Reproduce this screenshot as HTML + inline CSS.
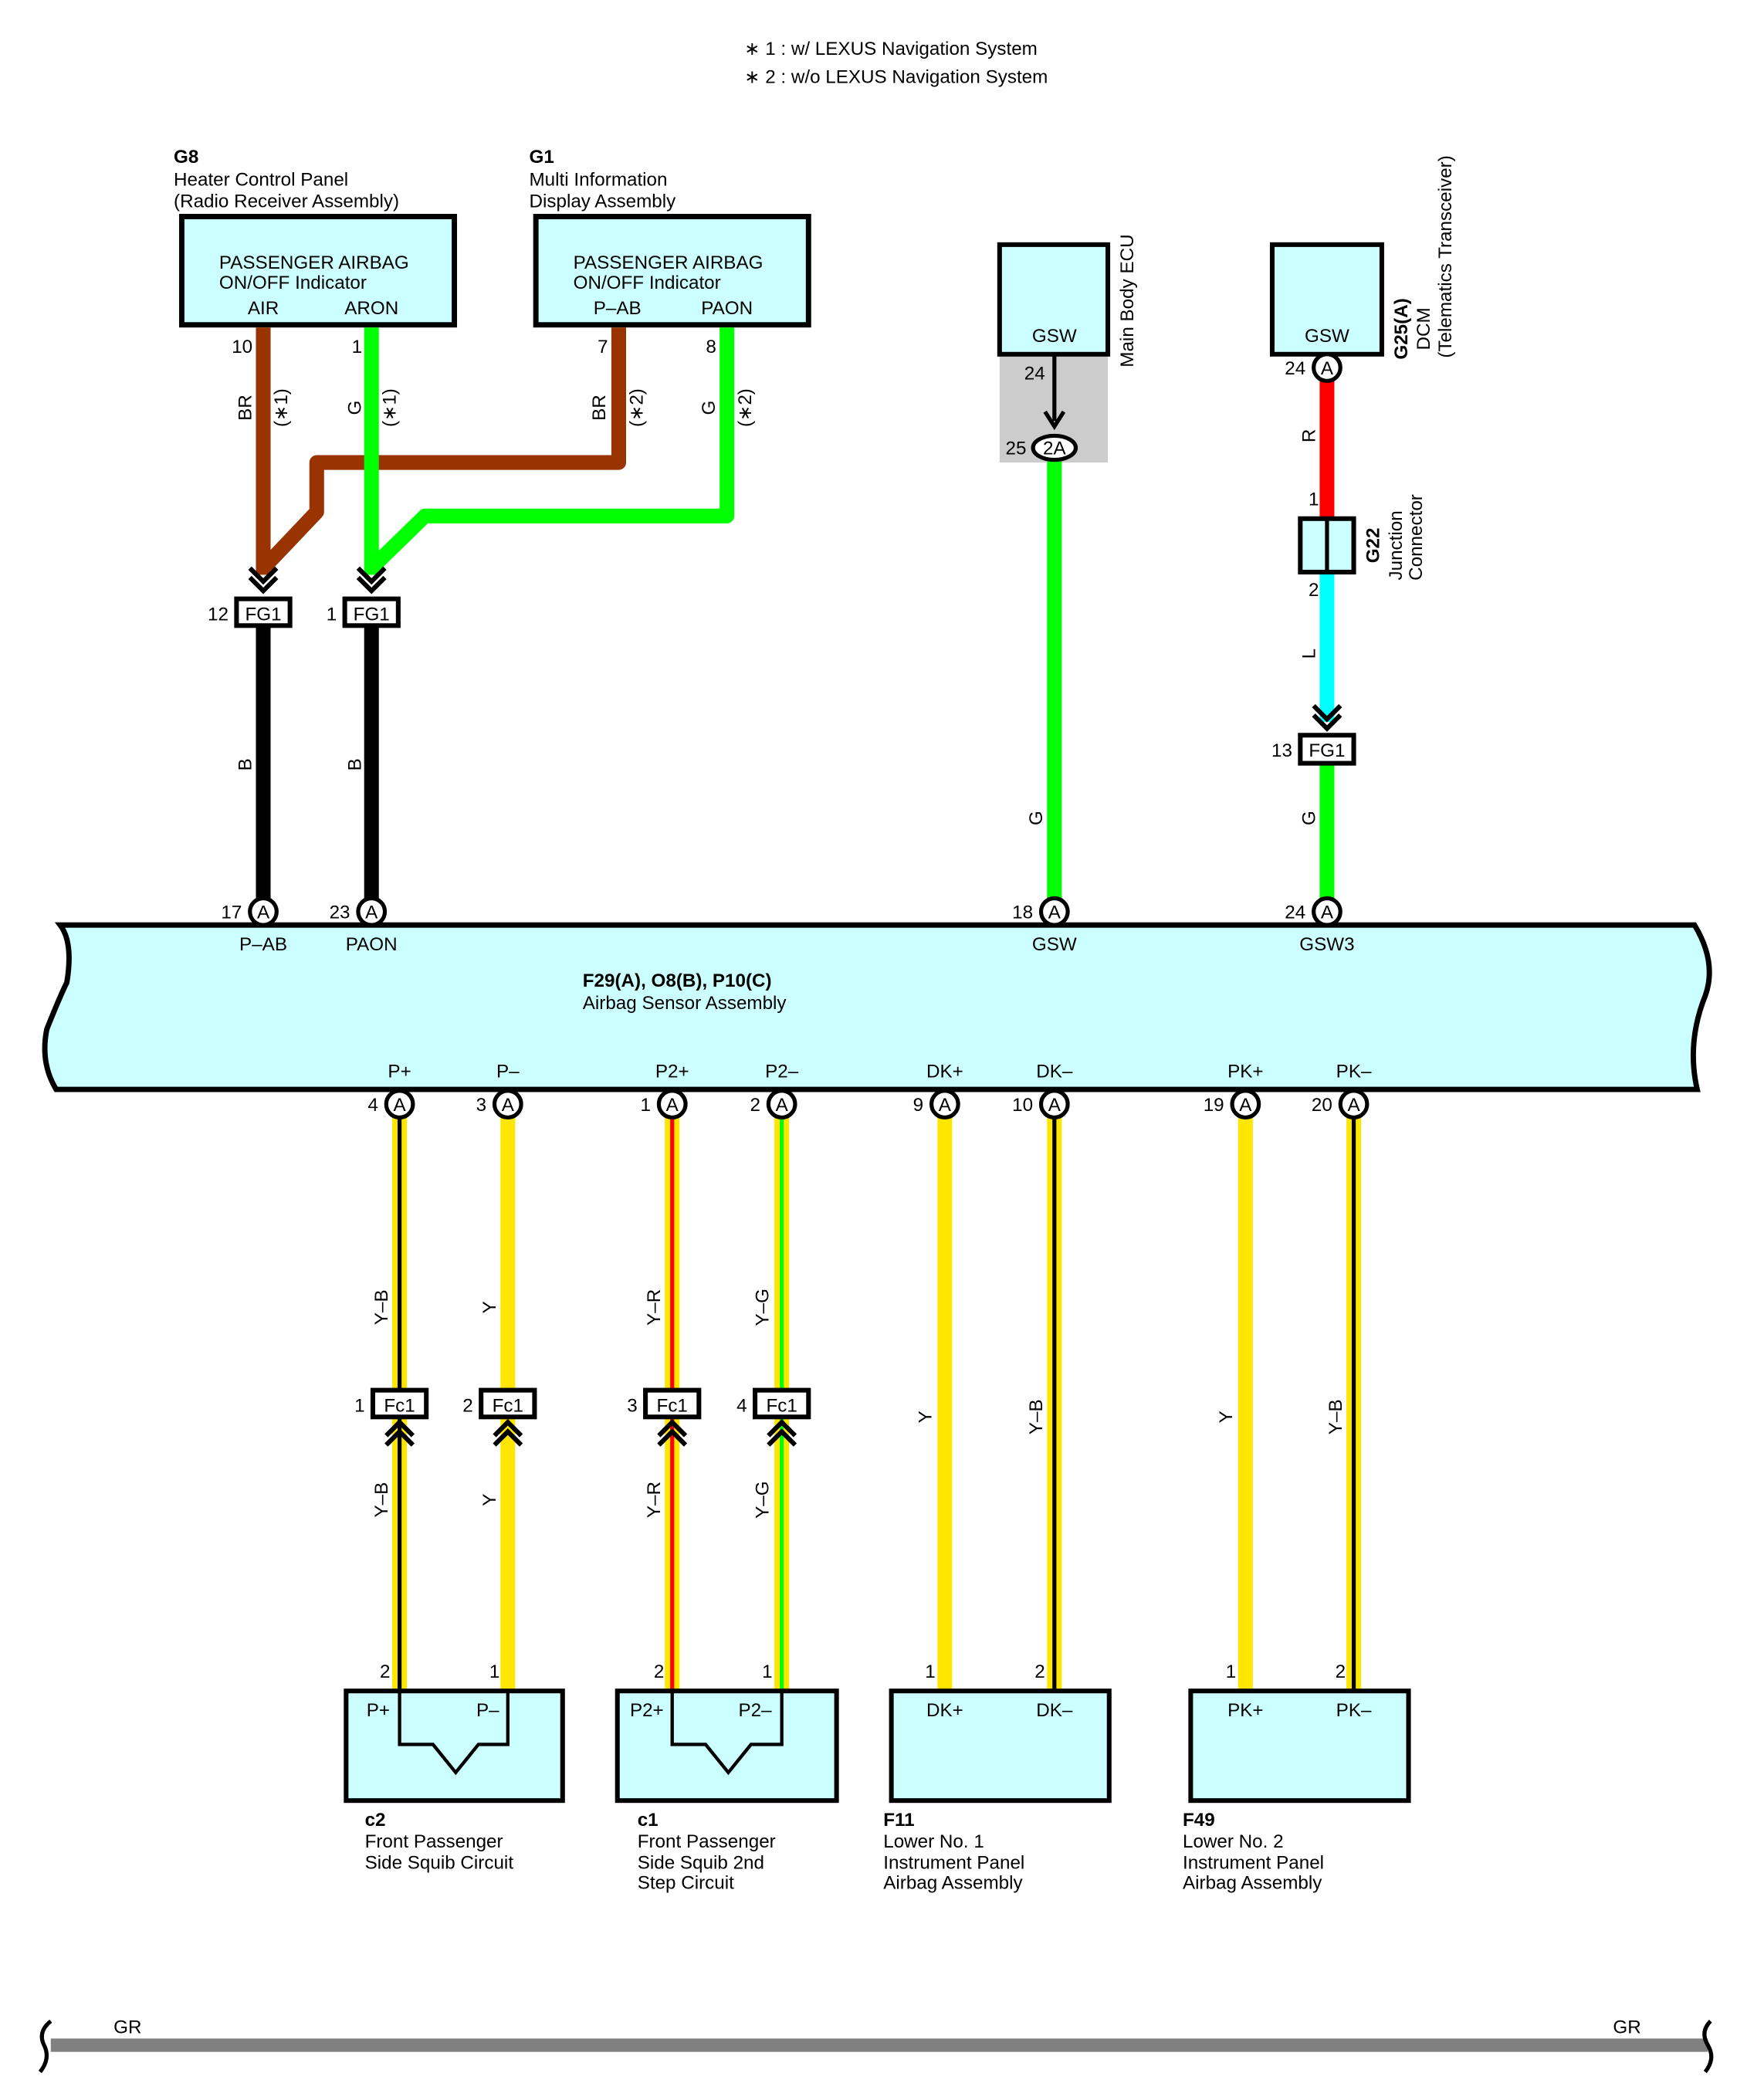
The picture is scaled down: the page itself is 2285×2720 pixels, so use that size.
<!DOCTYPE html>
<html><head><meta charset="utf-8"><style>
html,body{margin:0;padding:0;background:#fff}
svg{display:block}
text{font-family:"Liberation Sans",Arial,sans-serif;font-size:14px;fill:#000}
.b{font-weight:bold}
.m{text-anchor:middle}
.e{text-anchor:end}
</style></head><body>
<svg width="2285" height="2720" viewBox="0 0 1320 1571" preserveAspectRatio="none" xmlns="http://www.w3.org/2000/svg">
<defs>
<g id="chD" fill="none" stroke="#000" stroke-width="3.5"><polyline points="-10,-9 0,1 10,-9"/><polyline points="-10,-2 0,8 10,-2"/></g>
<g id="chU" fill="none" stroke="#000" stroke-width="3.5"><polyline points="-10,9 0,-1 10,9"/><polyline points="-10,2 0,-8 10,2"/></g>
</defs>
<!-- notes -->
<text x="557" y="41">∗ 1 : w/ LEXUS Navigation System</text>
<text x="557" y="62">∗ 2 : w/o LEXUS Navigation System</text>

<!-- G8 -->
<text x="130" y="122" class="b">G8</text>
<text x="130" y="139">Heater Control Panel</text>
<text x="130" y="155">(Radio Receiver Assembly)</text>
<rect x="136" y="162" width="204" height="81" fill="#ccffff" stroke="#000" stroke-width="4"/>
<text x="164" y="201">PASSENGER AIRBAG</text>
<text x="164" y="216">ON/OFF Indicator</text>
<text x="197" y="235" class="m">AIR</text>
<text x="278" y="235" class="m">ARON</text>

<!-- G1 -->
<text x="396" y="122" class="b">G1</text>
<text x="396" y="139">Multi Information</text>
<text x="396" y="155">Display Assembly</text>
<rect x="401" y="162" width="204" height="81" fill="#ccffff" stroke="#000" stroke-width="4"/>
<text x="429" y="201">PASSENGER AIRBAG</text>
<text x="429" y="216">ON/OFF Indicator</text>
<text x="462" y="235" class="m">P–AB</text>
<text x="544" y="235" class="m">PAON</text>

<!-- upper wires -->
<g fill="none" stroke-width="11" stroke-linejoin="round">
<polyline points="463,245 463,346 237,346 237,383 199,423" stroke="#993300"/>
<line x1="197" y1="245" x2="197" y2="430" stroke="#993300"/>
<polyline points="544,245 544,386 318,386 280,423" stroke="#00ff00"/>
<line x1="278" y1="245" x2="278" y2="430" stroke="#00ff00"/>
</g>
<text x="189" y="264" class="e">10</text>
<text x="271" y="264" class="e">1</text>
<text x="455" y="264" class="e">7</text>
<text x="536" y="264" class="e">8</text>
<g>
<text transform="translate(188,305) rotate(-90)" class="m">BR</text>
<text transform="translate(215,305) rotate(-90)" class="m">(∗1)</text>
<text transform="translate(270,305) rotate(-90)" class="m">G</text>
<text transform="translate(296,305) rotate(-90)" class="m">(∗1)</text>
<text transform="translate(453,305) rotate(-90)" class="m">BR</text>
<text transform="translate(481,305) rotate(-90)" class="m">(∗2)</text>
<text transform="translate(535,305) rotate(-90)" class="m">G</text>
<text transform="translate(562,305) rotate(-90)" class="m">(∗2)</text>
</g>
<use href="#chD" x="197" y="434"/>
<use href="#chD" x="278" y="434"/>
<!-- FG1 connectors -->
<line x1="197" y1="468" x2="197" y2="672" stroke="#000" stroke-width="11"/>
<line x1="278" y1="468" x2="278" y2="672" stroke="#000" stroke-width="11"/>
<rect x="177" y="448" width="40" height="20" fill="#fff" stroke="#000" stroke-width="3.5"/>
<text x="197" y="464" class="m">FG1</text>
<text x="171" y="464" class="e">12</text>
<rect x="258" y="448" width="40" height="20" fill="#fff" stroke="#000" stroke-width="3.5"/>
<text x="278" y="464" class="m">FG1</text>
<text x="252" y="464" class="e">1</text>
<text transform="translate(188,572) rotate(-90)" class="m">B</text>
<text transform="translate(270,572) rotate(-90)" class="m">B</text>

<!-- Main Body ECU -->
<rect x="748" y="265" width="81" height="81" fill="#cccccc"/>
<rect x="748" y="183" width="81" height="82" fill="#ccffff" stroke="#000" stroke-width="3.5"/>
<text x="789" y="256" class="m">GSW</text>
<text transform="translate(848,225) rotate(-90)" class="m">Main Body ECU</text>
<text x="782" y="284" class="e">24</text>
<line x1="789" y1="265" x2="789" y2="315" stroke="#000" stroke-width="3"/>
<polyline points="782,308 789,319 796,308" fill="none" stroke="#000" stroke-width="3"/>
<line x1="789" y1="344" x2="789" y2="672" stroke="#00ff00" stroke-width="11"/>
<ellipse cx="789" cy="335" rx="16" ry="9" fill="#fff" stroke="#000" stroke-width="3"/>
<text x="789" y="340" class="m">2A</text>
<text x="768" y="340" class="e">25</text>
<text transform="translate(780,612) rotate(-90)" class="m">G</text>

<!-- DCM -->
<rect x="952" y="183" width="82" height="82" fill="#ccffff" stroke="#000" stroke-width="3.5"/>
<text x="993" y="256" class="m">GSW</text>
<text transform="translate(1053,246) rotate(-90)" class="m b">G25(A)</text>
<text transform="translate(1070,246) rotate(-90)" class="m">DCM</text>
<text transform="translate(1086,192) rotate(-90)" class="m">(Telematics Transceiver)</text>
<line x1="993" y1="285" x2="993" y2="388" stroke="#ff0000" stroke-width="11"/>
<line x1="993" y1="428" x2="993" y2="540" stroke="#00ffff" stroke-width="11"/>
<line x1="993" y1="571" x2="993" y2="672" stroke="#00ff00" stroke-width="11"/>
<ellipse cx="993" cy="275" rx="10" ry="10" fill="#fff" stroke="#000" stroke-width="3"/>
<text x="993" y="280" class="m">A</text>
<text x="977" y="280" class="e">24</text>
<text transform="translate(984,326) rotate(-90)" class="m">R</text>
<text x="987" y="378" class="e">1</text>
<rect x="973" y="388" width="40" height="40" fill="#ccffff" stroke="#000" stroke-width="3.5"/>
<line x1="993" y1="388" x2="993" y2="428" stroke="#000" stroke-width="3"/>
<text transform="translate(1032,408) rotate(-90)" class="m b">G22</text>
<text transform="translate(1049,408) rotate(-90)" class="m">Junction</text>
<text transform="translate(1064,402) rotate(-90)" class="m">Connector</text>
<text x="987" y="446" class="e">2</text>
<text transform="translate(984,489) rotate(-90)" class="m">L</text>
<use href="#chD" x="993" y="537"/>
<rect x="973" y="550" width="40" height="21" fill="#fff" stroke="#000" stroke-width="3.5"/>
<text x="993" y="566" class="m">FG1</text>
<text x="967" y="566" class="e">13</text>
<text transform="translate(984,612) rotate(-90)" class="m">G</text>

<!-- Airbag sensor assembly -->
<path d="M45,692 L1268,692 Q1285,720 1276,745 Q1262,780 1270,815 L42,815 Q30,795 35,770 Q45,745 50,735 Q55,705 45,692 Z" fill="#ccffff" stroke="#000" stroke-width="4"/>
<g>
<ellipse cx="197" cy="682" rx="10" ry="10" fill="#fff" stroke="#000" stroke-width="3"/><text x="197" y="687" class="m">A</text><text x="181" y="687" class="e">17</text>
<ellipse cx="278" cy="682" rx="10" ry="10" fill="#fff" stroke="#000" stroke-width="3"/><text x="278" y="687" class="m">A</text><text x="262" y="687" class="e">23</text>
<ellipse cx="789" cy="682" rx="10" ry="10" fill="#fff" stroke="#000" stroke-width="3"/><text x="789" y="687" class="m">A</text><text x="773" y="687" class="e">18</text>
<ellipse cx="993" cy="682" rx="10" ry="10" fill="#fff" stroke="#000" stroke-width="3"/><text x="993" y="687" class="m">A</text><text x="977" y="687" class="e">24</text>
</g>
<text x="197" y="711" class="m">P–AB</text>
<text x="278" y="711" class="m">PAON</text>
<text x="789" y="711" class="m">GSW</text>
<text x="993" y="711" class="m">GSW3</text>
<text x="436" y="738" class="b">F29(A), O8(B), P10(C)</text>
<text x="436" y="755">Airbag Sensor Assembly</text>
<g class="m">
<text x="299" y="806" class="m">P+</text>
<text x="380" y="806" class="m">P–</text>
<text x="503" y="806" class="m">P2+</text>
<text x="585" y="806" class="m">P2–</text>
<text x="707" y="806" class="m">DK+</text>
<text x="789" y="806" class="m">DK–</text>
<text x="932" y="806" class="m">PK+</text>
<text x="1013" y="806" class="m">PK–</text>
</g>

<!-- lower wires -->
<g stroke-width="11">
<line x1="299" y1="836" x2="299" y2="1266" stroke="#ffe600"/>
<line x1="380" y1="836" x2="380" y2="1266" stroke="#ffe600"/>
<line x1="503" y1="836" x2="503" y2="1266" stroke="#ffe600"/>
<line x1="585" y1="836" x2="585" y2="1266" stroke="#ffe600"/>
<line x1="707" y1="836" x2="707" y2="1266" stroke="#ffe600"/>
<line x1="789" y1="836" x2="789" y2="1266" stroke="#ffe600"/>
<line x1="932" y1="836" x2="932" y2="1266" stroke="#ffe600"/>
<line x1="1013" y1="836" x2="1013" y2="1266" stroke="#ffe600"/>
</g>
<g stroke-width="3">
<line x1="299" y1="836" x2="299" y2="1266" stroke="#000"/>
<line x1="503" y1="836" x2="503" y2="1266" stroke="#ff0000"/>
<line x1="585" y1="836" x2="585" y2="1266" stroke="#00ff00"/>
<line x1="789" y1="836" x2="789" y2="1266" stroke="#000"/>
<line x1="1013" y1="836" x2="1013" y2="1266" stroke="#000"/>
</g>
<g>
<ellipse cx="299" cy="826" rx="10" ry="10" fill="#fff" stroke="#000" stroke-width="3"/><text x="299" y="831" class="m">A</text><text x="283" y="831" class="e">4</text>
<ellipse cx="380" cy="826" rx="10" ry="10" fill="#fff" stroke="#000" stroke-width="3"/><text x="380" y="831" class="m">A</text><text x="364" y="831" class="e">3</text>
<ellipse cx="503" cy="826" rx="10" ry="10" fill="#fff" stroke="#000" stroke-width="3"/><text x="503" y="831" class="m">A</text><text x="487" y="831" class="e">1</text>
<ellipse cx="585" cy="826" rx="10" ry="10" fill="#fff" stroke="#000" stroke-width="3"/><text x="585" y="831" class="m">A</text><text x="569" y="831" class="e">2</text>
<ellipse cx="707" cy="826" rx="10" ry="10" fill="#fff" stroke="#000" stroke-width="3"/><text x="707" y="831" class="m">A</text><text x="691" y="831" class="e">9</text>
<ellipse cx="789" cy="826" rx="10" ry="10" fill="#fff" stroke="#000" stroke-width="3"/><text x="789" y="831" class="m">A</text><text x="773" y="831" class="e">10</text>
<ellipse cx="932" cy="826" rx="10" ry="10" fill="#fff" stroke="#000" stroke-width="3"/><text x="932" y="831" class="m">A</text><text x="916" y="831" class="e">19</text>
<ellipse cx="1013" cy="826" rx="10" ry="10" fill="#fff" stroke="#000" stroke-width="3"/><text x="1013" y="831" class="m">A</text><text x="997" y="831" class="e">20</text>
</g>
<!-- Fc1 connectors -->
<g>
<rect x="279" y="1040" width="40" height="20" fill="#fff" stroke="#000" stroke-width="3.5"/><text x="299" y="1056" class="m">Fc1</text><text x="273" y="1056" class="e">1</text>
<rect x="360" y="1040" width="40" height="20" fill="#fff" stroke="#000" stroke-width="3.5"/><text x="380" y="1056" class="m">Fc1</text><text x="354" y="1056" class="e">2</text>
<rect x="483" y="1040" width="40" height="20" fill="#fff" stroke="#000" stroke-width="3.5"/><text x="503" y="1056" class="m">Fc1</text><text x="477" y="1056" class="e">3</text>
<rect x="565" y="1040" width="40" height="20" fill="#fff" stroke="#000" stroke-width="3.5"/><text x="585" y="1056" class="m">Fc1</text><text x="559" y="1056" class="e">4</text>
</g>
<use href="#chU" x="299" y="1072"/>
<use href="#chU" x="380" y="1072"/>
<use href="#chU" x="503" y="1072"/>
<use href="#chU" x="585" y="1072"/>
<g>
<text transform="translate(290,978) rotate(-90)" class="m">Y–B</text>
<text transform="translate(371,978) rotate(-90)" class="m">Y</text>
<text transform="translate(494,978) rotate(-90)" class="m">Y–R</text>
<text transform="translate(575,978) rotate(-90)" class="m">Y–G</text>
<text transform="translate(290,1122) rotate(-90)" class="m">Y–B</text>
<text transform="translate(371,1122) rotate(-90)" class="m">Y</text>
<text transform="translate(494,1122) rotate(-90)" class="m">Y–R</text>
<text transform="translate(575,1122) rotate(-90)" class="m">Y–G</text>
<text transform="translate(697,1060) rotate(-90)" class="m">Y</text>
<text transform="translate(780,1060) rotate(-90)" class="m">Y–B</text>
<text transform="translate(922,1060) rotate(-90)" class="m">Y</text>
<text transform="translate(1004,1060) rotate(-90)" class="m">Y–B</text>
</g>
<g>
<text x="292" y="1255" class="e">2</text>
<text x="374" y="1255" class="e">1</text>
<text x="497" y="1255" class="e">2</text>
<text x="578" y="1255" class="e">1</text>
<text x="700" y="1255" class="e">1</text>
<text x="782" y="1255" class="e">2</text>
<text x="925" y="1255" class="e">1</text>
<text x="1007" y="1255" class="e">2</text>
</g>

<!-- bottom components -->
<g fill="#ccffff" stroke="#000" stroke-width="3.5">
<rect x="259" y="1265" width="162" height="82"/>
<rect x="462" y="1265" width="164" height="82"/>
<rect x="667" y="1265" width="163" height="82"/>
<rect x="891" y="1265" width="163" height="82"/>
</g>
<g fill="none" stroke="#000" stroke-width="2.5">
<polyline points="299,1266 299,1305 324,1305 341,1326 358,1305 380,1305 380,1266"/>
<polyline points="503,1266 503,1305 528,1305 545,1326 562,1305 585,1305 585,1266"/>
</g>
<text x="283" y="1284" class="m">P+</text>
<text x="365" y="1284" class="m">P–</text>
<text x="484" y="1284" class="m">P2+</text>
<text x="565" y="1284" class="m">P2–</text>
<text x="707" y="1284" class="m">DK+</text>
<text x="789" y="1284" class="m">DK–</text>
<text x="932" y="1284" class="m">PK+</text>
<text x="1013" y="1284" class="m">PK–</text>

<text x="273" y="1366" class="b">c2</text>
<text x="273" y="1382">Front Passenger</text>
<text x="273" y="1398">Side Squib Circuit</text>
<text x="477" y="1366" class="b">c1</text>
<text x="477" y="1382">Front Passenger</text>
<text x="477" y="1398">Side Squib 2nd</text>
<text x="477" y="1413">Step Circuit</text>
<text x="661" y="1366" class="b">F11</text>
<text x="661" y="1382">Lower No.  1</text>
<text x="661" y="1398">Instrument Panel</text>
<text x="661" y="1413">Airbag Assembly</text>
<text x="885" y="1366" class="b">F49</text>
<text x="885" y="1382">Lower No.  2</text>
<text x="885" y="1398">Instrument Panel</text>
<text x="885" y="1413">Airbag Assembly</text>

<!-- GR bus -->
<line x1="38" y1="1530" x2="1278" y2="1530" stroke="#808080" stroke-width="10"/>
<path d="M38,1512 Q28,1520 33,1530 Q38,1540 30,1550" fill="none" stroke="#000" stroke-width="3"/>
<path d="M1280,1512 Q1272,1520 1278,1530 Q1284,1540 1276,1550" fill="none" stroke="#000" stroke-width="3"/>
<text x="85" y="1521">GR</text>
<text x="1207" y="1521">GR</text>
</svg>
</body></html>
